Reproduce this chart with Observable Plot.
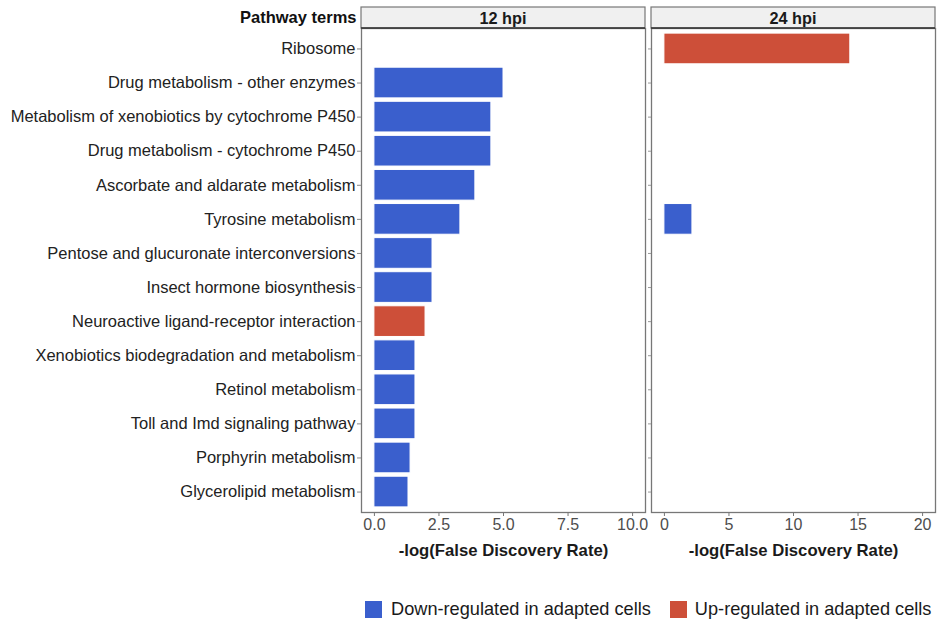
<!DOCTYPE html>
<html>
<head>
<meta charset="utf-8">
<script src="https://cdn.jsdelivr.net/npm/d3@7"></script>
<script src="https://cdn.jsdelivr.net/npm/@observablehq/plot@0.6"></script>
<style>
  body { margin: 0; background: #fff; font-family: "Liberation Sans", Arial, sans-serif; }
  #chart { position: relative; width: 938px; height: 624px; background: #fff; }
  #chart svg { position: absolute; top: 0; }
  .legend { position: absolute; top: 599px; left: 365px; display: flex; align-items: center;
            font-size: 18.2px; color: #1a1a1a; white-space: nowrap; }
  .legend .sw { width: 17px; height: 17px; display: inline-block; margin-right: 9px; }
  .legend .item { display: flex; align-items: center; margin-right: 19px; }
  .legend .item:last-child .sw { margin-right: 8px; }
</style>
</head>
<body>
<div id="chart"></div>
<script>
// KEGG pathway terms, top to bottom
const terms = [
  "Ribosome",
  "Drug metabolism - other enzymes",
  "Metabolism of xenobiotics by cytochrome P450",
  "Drug metabolism - cytochrome P450",
  "Ascorbate and aldarate metabolism",
  "Tyrosine metabolism",
  "Pentose and glucuronate interconversions",
  "Insect hormone biosynthesis",
  "Neuroactive ligand-receptor interaction",
  "Xenobiotics biodegradation and metabolism",
  "Retinol metabolism",
  "Toll and Imd signaling pathway",
  "Porphyrin metabolism",
  "Glycerolipid metabolism"
];

// -log(FDR) per term at each time point (null = not enriched)
const fdr12 = [null, 5.0, 4.53, 4.53, 3.91, 3.33, 2.25, 2.25, 1.98, 1.59, 1.59, 1.59, 1.40, 1.32];
const fdr24 = [14.4, null, null, null, null, 2.17, null, null, null, null, null, null, null, null];

// regulation direction: "down" / "up"
const dir12 = [null, "down", "down", "down", "down", "down", "down", "down", "up", "down", "down", "down", "down", "down"];
const dir24 = ["up", null, null, null, null, "down", null, null, null, null, null, null, null, null];

const timeLabels = ["12 hpi", "24 hpi"];
const xTicks12 = [0, 2.5, 5, 7.5, 10];
const xTicks24 = [0, 5, 10, 15, 20];
const directionKeys = ["down", "up"];
const directionLabels = ["Down-regulated in adapted cells", "Up-regulated in adapted cells"];
const directionColors = ["#3A5FCD", "#CD4F39"];
const xTitle = "-log(False Discovery Rate)";
const yTitle = "Pathway terms";

const FONT = "'Liberation Sans', Arial, sans-serif";

// facet strip drawn above the panel's frame
function strip(label) {
  return (index, scales, values, dims) => {
    const g = d3.create("svg:g");
    const x0 = dims.marginLeft, x1 = dims.width - dims.marginRight;
    const top = dims.marginTop - 21;
    g.append("rect")
      .attr("x", x0).attr("y", top).attr("width", x1 - x0).attr("height", 21)
      .attr("fill", "#f0f0f0").attr("stroke", "#777").attr("stroke-width", 1.2);
    g.append("line")
      .attr("x1", x0).attr("x2", x1).attr("y1", dims.marginTop).attr("y2", dims.marginTop)
      .attr("stroke", "#333").attr("stroke-width", 1.5);
    g.append("text")
      .attr("x", (x0 + x1) / 2).attr("y", top + 11).attr("dy", "0.36em")
      .attr("text-anchor", "middle").attr("font-weight", "bold").attr("font-size", 16.3)
      .attr("fill", "#1a1a1a").text(label);
    return g.node();
  };
}

function panel({values, dirs, label, domain, ticks, tickFormat, width, marginLeft, marginRight, showY}) {
  const rows = terms.map((t, i) => ({term: t, value: values[i], dir: dirs[i]}))
                    .filter(d => d.value != null);
  const marks = [
    Plot.barX(rows, {x: "value", y: "term", fill: "dir", stroke: "white", strokeWidth: 1}),
    Plot.frame({stroke: "#777", strokeWidth: 1.3}),
    strip(label),
    Plot.axisX({ticks, tickFormat, tickSize: 4, tickPadding: 2, fontSize: 16,
                color: "#4d4d4d", stroke: "#777", label: null}),
    Plot.text([xTitle], {frameAnchor: "bottom", dy: 38, fontWeight: "bold", fontSize: 16.7,
                         fill: "#1a1a1a", lineAnchor: "middle"})
  ];
  if (showY) {
    marks.push(Plot.axisY({tickSize: 4, tickPadding: 2, fontSize: 16.5, color: "#222",
                           stroke: "#888", label: null}));
    marks.push(Plot.text([yTitle], {frameAnchor: "top-left", dx: -5, dy: -11, textAnchor: "end",
                                    fontWeight: "bold", fontSize: 16.5, fill: "#111", lineAnchor: "middle"}));
  } else {
    marks.push(Plot.axisY({tickSize: 3, tickFormat: () => "", stroke: "#999", label: null}));
  }
  return Plot.plot({
    width, height: 570,
    marginTop: 28, marginBottom: 58, marginLeft, marginRight,
    style: {fontFamily: FONT, background: "transparent", overflow: "visible"},
    x: {domain, label: null},
    y: {domain: terms, paddingInner: 0.1, paddingOuter: 0.15, round: false, label: null},
    color: {domain: directionKeys, range: directionColors},
    marks
  });
}

const chart = document.getElementById("chart");

const p1 = panel({values: fdr12, dirs: dir12, label: timeLabels[0], domain: [-0.5, 10.5],
                  ticks: xTicks12, tickFormat: d3.format(".1f"),
                  width: 646, marginLeft: 361, marginRight: 1, showY: true});
p1.style.left = "0px";
chart.appendChild(p1);

const p2 = panel({values: fdr24, dirs: dir24, label: timeLabels[1], domain: [-1, 21],
                  ticks: xTicks24, tickFormat: d3.format("d"),
                  width: 290, marginLeft: 5, marginRight: 1, showY: false});
p2.style.left = "646px";
chart.appendChild(p2);

// legend below the panels
const legend = document.createElement("div");
legend.className = "legend";
directionLabels.forEach((lab, i) => {
  const item = document.createElement("span");
  item.className = "item";
  const sw = document.createElement("span");
  sw.className = "sw";
  sw.style.background = directionColors[i];
  const tx = document.createElement("span");
  tx.textContent = lab;
  item.appendChild(sw);
  item.appendChild(tx);
  legend.appendChild(item);
});
chart.appendChild(legend);
</script>
</body>
</html>
